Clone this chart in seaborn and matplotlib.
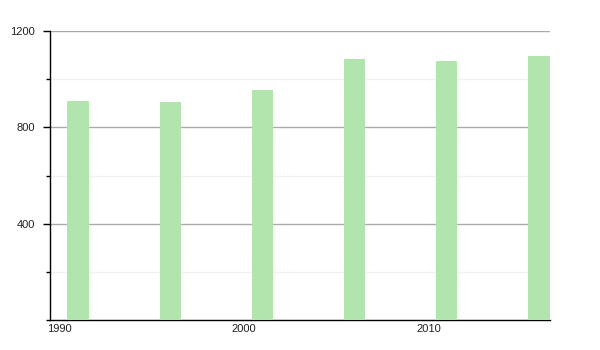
import matplotlib
matplotlib.use("Agg")
import matplotlib.pyplot as plt
import seaborn as sns
import pandas as pd
from matplotlib.ticker import MultipleLocator

years = [1991, 1996, 2001, 2006, 2011, 2016]
population = [910, 904, 956, 1082, 1077, 1096]
xtick_years = [1990, 2000, 2010]
ytick_values = [400, 800, 1200]

sns.set_theme(style="white")
plt.rcParams["font.family"] = ["Liberation Sans", "DejaVu Sans"]

df = pd.DataFrame({"year": years, "pop": population})

fig = plt.figure(figsize=(6, 3.5), dpi=100)
ax = fig.add_axes([50 / 600, 30 / 350, 500 / 600, 289 / 350])

sns.barplot(data=df, x="year", y="pop", native_scale=True, width=0.23,
            color="#b2e4ae", saturation=1, ax=ax, zorder=3, edgecolor="none")

ax.set_xlim(1989.48, 2016.6)
ax.set_ylim(0, 1200)
ax.set_xticks(xtick_years)
ax.set_xticklabels([str(y) for y in xtick_years])
ax.set_yticks(ytick_values)
ax.set_yticklabels([str(v) for v in ytick_values])
ax.yaxis.set_minor_locator(MultipleLocator(200))
ax.set_xlabel("")
ax.set_ylabel("")

ax.grid(axis="y", which="major", color="#aaaaaa", linewidth=1, zorder=1)
ax.grid(axis="y", which="minor", color="#f0f0f0", linewidth=1, zorder=1)
ax.grid(axis="x", visible=False)
ax.set_axisbelow(True)

for s in ["top", "right"]:
    ax.spines[s].set_visible(False)
for s in ["left", "bottom"]:
    ax.spines[s].set_color("black")
    ax.spines[s].set_linewidth(1)

ax.tick_params(axis="y", which="major", length=5, width=1, color="black",
               labelsize=8, pad=6, left=True, labelcolor="#222222")
ax.tick_params(axis="y", which="minor", length=3, width=1, color="black", left=True)
ax.tick_params(axis="x", which="both", length=0, labelsize=8, pad=3,
               labelcolor="#222222")

fig.savefig("out.png", dpi=100)
